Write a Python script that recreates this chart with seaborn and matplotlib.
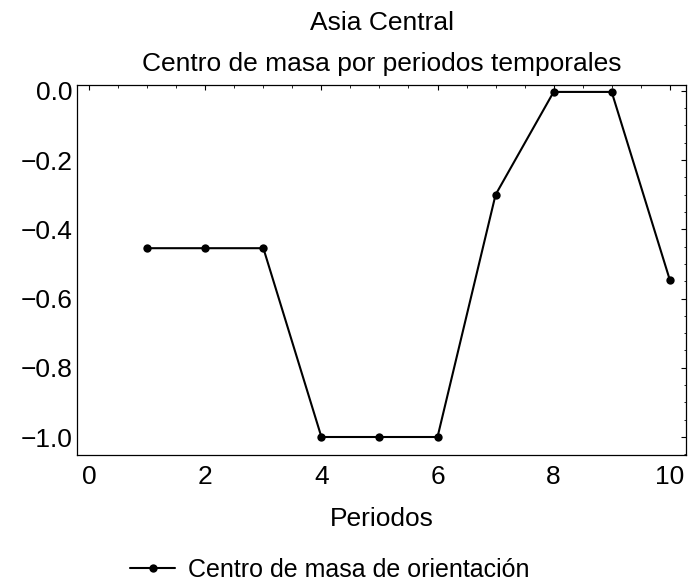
import matplotlib
matplotlib.use("Agg")
import matplotlib.pyplot as plt
import seaborn as sns
import pandas as pd
from matplotlib.ticker import MultipleLocator

periodos = [1, 2, 3, 4, 5, 6, 7, 8, 9, 10]
centro = [-0.4545, -0.4545, -0.4545, -1.0, -1.0, -1.0, -0.30, -0.003, -0.003, -0.5455]
serie = "Centro de masa de orientación"
titulo = "Asia Central\nCentro de masa por periodos temporales"
xlabel = "Periodos"

df = pd.DataFrame({"Periodos": periodos, "valor": centro, "serie": serie})

sns.set_style("white")
plt.rcParams["font.family"] = ["Liberation Sans", "DejaVu Sans"]
plt.rcParams["text.color"] = "black"
plt.rcParams["axes.labelcolor"] = "black"

FS = 19
fig = plt.figure(figsize=(6.93, 5.88), dpi=100)
ax = fig.add_axes([77 / 693, 1 - 455 / 588, (686 - 77) / 693, (455 - 85) / 588])

sns.lineplot(data=df, x="Periodos", y="valor", hue="serie", palette=["black"],
             marker="o", markersize=6, linewidth=1.5, markeredgewidth=0, ax=ax, legend=True)

ax.set_xlim(-0.21, 10.28)
ax.set_ylim(-1.052, 0.017)
ax.xaxis.set_major_locator(MultipleLocator(2))
ax.xaxis.set_minor_locator(MultipleLocator(0.5))
ax.yaxis.set_major_locator(MultipleLocator(0.2))
ax.yaxis.set_minor_locator(MultipleLocator(0.05))
ax.tick_params(which="both", direction="in", top=True, right=True, labelsize=FS, colors="black")
ax.tick_params(which="major", length=3.5, width=0.8)
ax.tick_params(which="minor", length=1.8, width=0.6)
ax.tick_params(axis="x", pad=7)
ax.tick_params(axis="y", pad=3)
for s in ax.spines.values():
    s.set_color("black")
    s.set_linewidth(0.9)

ax.set_xlabel(xlabel, fontsize=FS, labelpad=13, color="black")
ax.set_ylabel("")
ax.set_title(titulo, fontsize=FS, linespacing=1.9, pad=10, color="black")

h, l = ax.get_legend_handles_labels()
ax.get_legend().remove()
fig.legend(h, l, loc="center left", bbox_to_anchor=(130 / 693, 1 - 570 / 588), frameon=False,
           fontsize=FS - 1, handlelength=1.8, handletextpad=0.5, borderpad=0, borderaxespad=0,
           labelcolor="black")

fig.savefig("out.png", dpi=100)
